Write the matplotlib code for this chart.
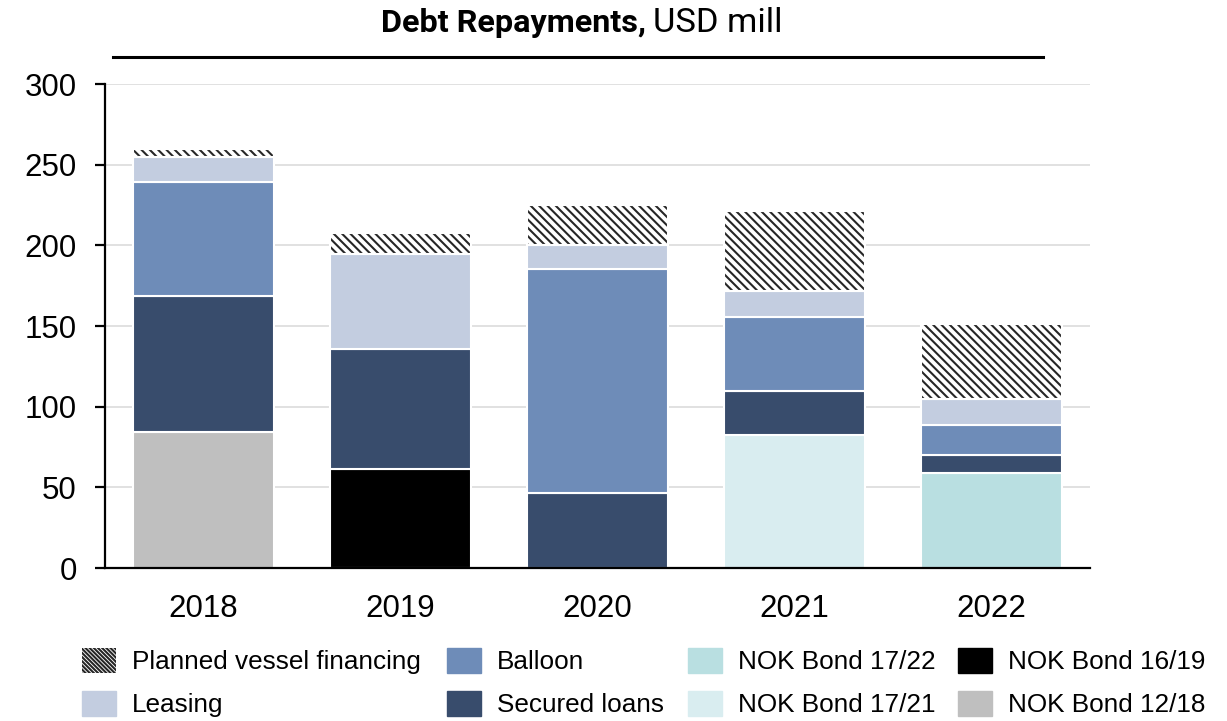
import numpy as np
import matplotlib
matplotlib.use("Agg")
import matplotlib.pyplot as plt
from matplotlib.patches import Patch

years = ["2018", "2019", "2020", "2021", "2022"]

# USD mill per year, stacked bottom to top
nok_bond_12_18 = [84, 0, 0, 0, 0]
nok_bond_16_19 = [0, 61.5, 0, 0, 0]
nok_bond_17_21 = [0, 0, 0, 82.5, 0]
nok_bond_17_22 = [0, 0, 0, 0, 59]
secured_loans = [84.5, 74.5, 46.5, 27, 11]
balloon = [70.5, 0, 139, 46, 18.5]
leasing = [16, 58.5, 15, 16, 16]
planned_vessel = [5, 13, 24.5, 49.5, 47]

colors = {
    "NOK Bond 12/18": "#bfbfbf",
    "NOK Bond 16/19": "#000000",
    "NOK Bond 17/21": "#d9edf0",
    "NOK Bond 17/22": "#b9dfe1",
    "Secured loans": "#384c6c",
    "Balloon": "#6e8cb8",
    "Leasing": "#c3cde0",
}
HATCH = "\\\\\\\\"

plt.rcParams["font.family"] = ["Liberation Sans", "DejaVu Sans"]
plt.rcParams["hatch.linewidth"] = 1.5

fig = plt.figure(figsize=(12.27, 7.21), dpi=100)
ax = fig.add_axes([105 / 1227, 1 - 568 / 721, 985 / 1227, 484 / 721])

x = np.arange(len(years))
width = 0.714
bottom = np.zeros(len(years))

layers = [
    ("NOK Bond 12/18", nok_bond_12_18),
    ("NOK Bond 16/19", nok_bond_16_19),
    ("NOK Bond 17/21", nok_bond_17_21),
    ("NOK Bond 17/22", nok_bond_17_22),
    ("Secured loans", secured_loans),
    ("Balloon", balloon),
    ("Leasing", leasing),
]

for name, vals in layers:
    vals = np.array(vals, dtype=float)
    keep = vals > 0
    ax.bar(x[keep], vals[keep], width, bottom=bottom[keep],
           color=colors[name], edgecolor="white", linewidth=1.5, zorder=2)
    bottom += vals

# hatched planned financing on top
pv = np.array(planned_vessel, dtype=float)
ax.bar(x, pv, width, bottom=bottom, facecolor="white", edgecolor="#262626",
       hatch=HATCH, linewidth=0, zorder=2)
ax.bar(x, pv, width, bottom=bottom, facecolor="none", edgecolor="white",
       linewidth=1.5, zorder=2.1)

ax.set_xlim(-0.5, 4.5)
ax.set_ylim(0, 300)
ax.set_yticks(np.arange(0, 301, 50))
ax.set_xticks(x)
ax.set_xticklabels(years)
ax.yaxis.grid(True, color="#d9d9d9", linewidth=1.1, zorder=0)
ax.set_axisbelow(True)

for s in ["top", "right"]:
    ax.spines[s].set_visible(False)
for s in ["left", "bottom"]:
    ax.spines[s].set_linewidth(1.6)
ax.tick_params(axis="y", length=7.2, width=1.6, pad=13, labelsize=22.5)
ax.tick_params(axis="x", length=0, pad=19, labelsize=22.5)

# title with mixed weights and rule underneath
fig.text(646 / 1227, 1 - 32 / 721, "Debt Repayments,", family="Roboto",
         weight="bold", fontsize=23.3, ha="right", va="baseline")
fig.text(653 / 1227, 1 - 32 / 721, "USD mill", family="Roboto",
         fontsize=24.8, ha="left", va="baseline")
fig.add_artist(plt.Line2D([113 / 1227, 1043 / 1227], [1 - 57 / 721] * 2,
                          color="black", linewidth=2.2,
                          transform=fig.transFigure))

# legend laid out as four two-row columns
columns = [
    (82, [Patch(facecolor="white", edgecolor="#262626", hatch=HATCH * 2,
                linewidth=0, label="Planned vessel financing"),
          Patch(color=colors["Leasing"], label="Leasing")]),
    (447, [Patch(color=colors["Balloon"], label="Balloon"),
           Patch(color=colors["Secured loans"], label="Secured loans")]),
    (688, [Patch(color=colors["NOK Bond 17/22"], label="NOK Bond 17/22"),
           Patch(color=colors["NOK Bond 17/21"], label="NOK Bond 17/21")]),
    (958, [Patch(color=colors["NOK Bond 16/19"], label="NOK Bond 16/19"),
           Patch(color=colors["NOK Bond 12/18"], label="NOK Bond 12/18")]),
]
for xpos, hs in columns:
    fig.legend(handles=hs, ncol=1, loc="upper left",
               bbox_to_anchor=(xpos / 1227, 1 - 648 / 721), frameon=False,
               fontsize=18.8, handlelength=1.32, handleheight=1.1,
               handletextpad=0.6, labelspacing=0.62,
               borderpad=0, borderaxespad=0)

fig.savefig("out.png", dpi=100)
